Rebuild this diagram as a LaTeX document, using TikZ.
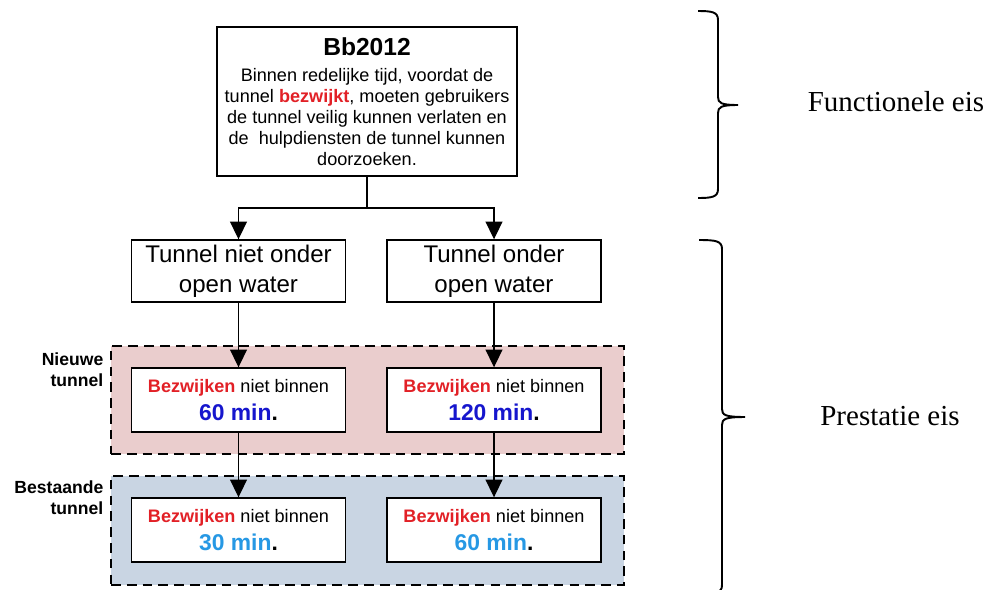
\documentclass[tikz,border=0pt]{standalone}
\usepackage{fontspec}
\setmainfont{Liberation Sans}
\newfontfamily\serifeis{Liberation Serif}
\usepackage{xcolor}
\usetikzlibrary{arrows.meta}
\definecolor{bzred}{RGB}{226,32,38}
\definecolor{darkmin}{RGB}{22,22,205}
\definecolor{lightmin}{RGB}{38,152,228}
\definecolor{newfill}{RGB}{234,205,205}
\definecolor{oldfill}{RGB}{201,213,227}
\newcommand*{\bzw}{\textcolor{bzred}{\textbf{Bezwijken}}}
\newcommand*{\mintxt}[2]{{\fontsize{13}{15.9}\selectfont\bfseries\textcolor{#1}{#2 min}.}}
% #1 end x, #2 stem x, #3 tip x, #4 top y, #5 tip y, #6 bottom y
\newcommand*{\accolade}[6]{%
  \draw[line width=1.1pt] (#1,#4) .. controls (#2-6,#4) and (#2,#4+1) .. (#2,#4+9)
    -- (#2,#5-8) .. controls (#2,#5-2) and (#2+3,#5) .. (#3,#5)
    .. controls (#2+3,#5) and (#2,#5+2) .. (#2,#5+8)
    -- (#2,#6-9) .. controls (#2,#6-1) and (#2-6,#6) .. (#1,#6);%
}

\begin{document}
\begin{tikzpicture}[x=0.02cm, y=-0.02cm, line width=0.8pt,
  box/.style={draw, fill=white, align=center, inner sep=0pt},
  critbox/.style={box, minimum width=4.28cm, minimum height=1.28cm, font=\fontsize{10.3}{15.9}\selectfont},
  zone/.style={draw, dash pattern=on 5.5pt off 3.5pt, line width=1.1pt, minimum width=10.26cm},
  arr/.style={-{Triangle[length=10pt, width=9.5pt]}},
  sidelabel/.style={align=right, anchor=east, inner sep=0pt, font=\fontsize{10}{11.9}\selectfont\bfseries},
  eis/.style={font=\serifeis\fontsize{16.5}{18}\selectfont}]
\useasboundingbox (0,0) rectangle (989,589);

\node[zone, fill=newfill, minimum height=2.16cm] (newzone) at (367.5,400) {};
\node[zone, fill=oldfill, minimum height=2.18cm] (oldzone) at (367.5,530.5) {};

\node[box, minimum width=6cm, minimum height=2.98cm, font=\fontsize{10.3}{11.9}\selectfont] (bb) at (367,101.5)
  {{\fontsize{14}{16}\selectfont\bfseries Bb2012}\\[3.4pt]
   Binnen redelijke tijd, voordat de\\
   tunnel \textcolor{bzred}{\textbf{bezwijkt}}, moeten gebruikers\\
   de tunnel veilig kunnen verlaten en\\
   de\ \ hulpdiensten de tunnel kunnen\\
   doorzoeken.};

\node[box, minimum width=4.28cm, minimum height=1.24cm, font=\fontsize{13.7}{17}\selectfont] (dry) at (238.5,271) {Tunnel niet onder\\open water};
\node[box, minimum width=4.28cm, minimum height=1.24cm, font=\fontsize{13.7}{17}\selectfont] (wet) at (494,271) {Tunnel onder\\open water};

\node[critbox] (drynew) at (238.5,400) {\bzw{} niet binnen\\\mintxt{darkmin}{60}};
\node[critbox] (wetnew) at (494,400) {\bzw{} niet binnen\\\mintxt{darkmin}{120}};
\node[critbox] (dryold) at (238.5,530) {\bzw{} niet binnen\\\mintxt{lightmin}{30}};
\node[critbox] (wetold) at (494,530) {\bzw{} niet binnen\\\mintxt{lightmin}{60}};

\node[sidelabel] (newlbl) at (104,370) {Nieuwe\\tunnel};
\node[sidelabel] (oldlbl) at (104,497.5) {Bestaande\\tunnel};

\coordinate (split) at (367,208);
\draw (bb) -- (split);
\draw[arr] (split) -| (dry);
\draw[arr] (split) -| (wet);
\draw[arr] (dry) -- (drynew);
\draw[arr] (wet) -- (wetnew);
\draw[arr] (drynew) -- (dryold);
\draw[arr] (wetnew) -- (wetold);

\accolade{698}{718}{738}{11}{105}{198}
\accolade{699}{722}{745}{240}{417}{594}
\node[eis] (funct) at (896,102) {Functionele eis};
\node[eis] (prest) at (890,416) {Prestatie eis};
\end{tikzpicture}
\end{document}
